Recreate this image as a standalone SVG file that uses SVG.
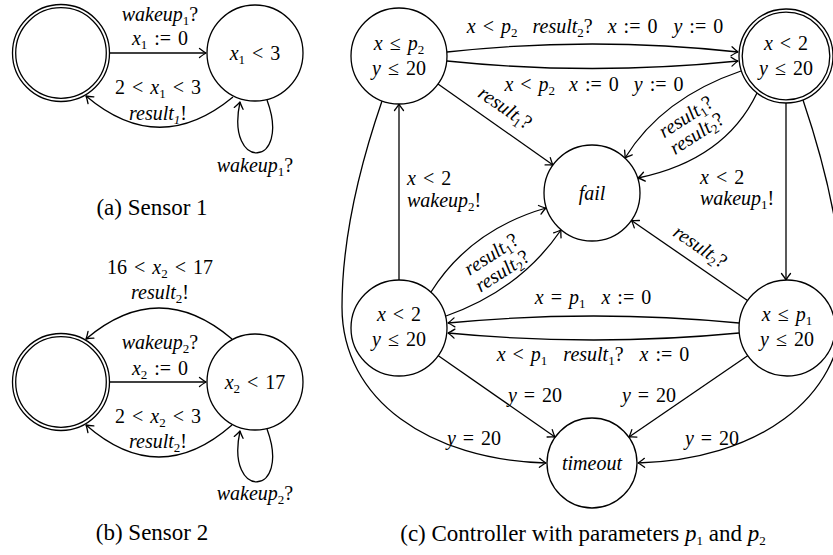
<svg xmlns="http://www.w3.org/2000/svg" width="833" height="555" viewBox="0 0 833 555">
<style>
.t{font-family:"Liberation Serif","DejaVu Serif",serif;font-size:20px;fill:#000;text-anchor:middle;word-spacing:2px}
.l{text-anchor:start}
.i{font-style:italic}
.s{font-size:13px}
.cap{font-size:23px;word-spacing:0}
.n{fill:#fff;stroke:#000;stroke-width:1.3}
.e{fill:none;stroke:#000;stroke-width:1.3;marker-end:url(#ah)}
</style>
<defs>
<marker id="ah" viewBox="-8 -6 10 12" markerWidth="10" markerHeight="12" refX="0" refY="0" orient="auto" markerUnits="userSpaceOnUse">
<path d="M -6.5 -4.5 Q -2 -1 0 0 Q -2 1 -6.5 4.5" fill="none" stroke="#000" stroke-width="1.3" stroke-linecap="round" stroke-linejoin="round"/>
</marker>
</defs>
<rect width="833" height="555" fill="#fff"/>

<g id="connectors">
<path class="e" d="M 110 53 L 206 53"/>
<path class="e" d="M 233 97 Q 159 158 86 96"/>
<path class="e" d="M 267 100 C 292 168 225 172 240 102"/>
<path class="e" d="M 110 382 L 206 382"/>
<path class="e" d="M 232 339 Q 159 277 86 339"/>
<path class="e" d="M 232 425 Q 159 489 86 425"/>
<path class="e" d="M 267 429 C 292 497 225 501 240 431"/>
<path class="e" d="M 447 52 Q 592 36 738 52"/>
<path class="e" d="M 447 61 Q 592 76 738 61"/>
<path class="e" d="M 438 84 L 553 165"/>
<path class="e" d="M 741 71 Q 662 98 625 158"/>
<path class="e" d="M 757 93 Q 725 160 638 178"/>
<path class="e" d="M 786 103 L 786 280"/>
<path class="e" d="M 803 100 C 825 165 843 240 843 307 C 843 400 755 460 638 463"/>
<path class="e" d="M 382 101 C 360 165 342 240 342 307 C 342 400 430 460 546 463"/>
<path class="e" d="M 399 280 L 399 104"/>
<path class="e" d="M 431 292 Q 470 230 546 208"/>
<path class="e" d="M 446 316 Q 520 290 561 230"/>
<path class="e" d="M 739 323 Q 594 309 448 323"/>
<path class="e" d="M 739 333 Q 594 347 448 333"/>
<path class="e" d="M 438 355.5 L 555 437"/>
<path class="e" d="M 748 355.5 L 629 437"/>
<path class="e" d="M 747.5 300.5 L 631.5 220.5"/>
</g>

<g id="s1-init"><circle class="n" cx="61" cy="53" r="48.5"/><circle class="n" cx="61" cy="53" r="45.3"/></g>
<g id="s1-active"><circle class="n" cx="255" cy="53" r="48"/>
<text class="t" x="255" y="60"><tspan class="i">x</tspan><tspan class="s" dy="4">1</tspan><tspan dy="-4"> &lt; 3</tspan></text></g>

<g id="s2-init"><circle class="n" cx="61" cy="382" r="48.5"/><circle class="n" cx="61" cy="382" r="45.3"/></g>
<g id="s2-active"><circle class="n" cx="255" cy="382" r="48"/>
<text class="t" x="255" y="389"><tspan class="i">x</tspan><tspan class="s" dy="4">2</tspan><tspan dy="-4"> &lt; 17</tspan></text></g>

<g id="c-p2"><circle class="n" cx="399" cy="56" r="48"/>
<text class="t" x="399" y="50"><tspan class="i">x</tspan> ≤ <tspan class="i">p</tspan><tspan class="s" dy="4">2</tspan></text>
<text class="t" x="399" y="75"><tspan class="i">y</tspan> ≤ 20</text></g>

<g id="c-x2-top"><circle class="n" cx="786" cy="56" r="47"/><circle class="n" cx="786" cy="56" r="43.8"/>
<text class="t" x="786" y="50"><tspan class="i">x</tspan> &lt; 2</text>
<text class="t" x="786" y="75"><tspan class="i">y</tspan> ≤ 20</text></g>

<g id="c-fail"><circle class="n" cx="592" cy="193" r="48"/>
<text class="t i" x="592" y="200">fail</text></g>

<g id="c-x2-bot"><circle class="n" cx="399" cy="328" r="48"/>
<text class="t" x="399" y="321"><tspan class="i">x</tspan> &lt; 2</text>
<text class="t" x="399" y="346"><tspan class="i">y</tspan> ≤ 20</text></g>

<g id="c-p1"><circle class="n" cx="787" cy="328" r="48"/>
<text class="t" x="787" y="321"><tspan class="i">x</tspan> ≤ <tspan class="i">p</tspan><tspan class="s" dy="4">1</tspan></text>
<text class="t" x="787" y="346"><tspan class="i">y</tspan> ≤ 20</text></g>

<g id="c-timeout"><circle class="n" cx="592" cy="463" r="45"/>
<text class="t i" x="592" y="470">timeout</text></g>

<g id="edge-labels">
<text class="t" x="160" y="21"><tspan class="i">wakeup</tspan><tspan class="s" dy="4">1</tspan><tspan dy="-4">?</tspan></text>
<text class="t" x="160" y="45"><tspan class="i">x</tspan><tspan class="s" dy="4">1</tspan><tspan dy="-4"> := 0</tspan></text>
<text class="t" x="158" y="94">2 &lt; <tspan class="i">x</tspan><tspan class="s" dy="4">1</tspan><tspan dy="-4"> &lt; 3</tspan></text>
<text class="t" x="158" y="120"><tspan class="i">result</tspan><tspan class="s i" dy="4">1</tspan><tspan dy="-4">!</tspan></text>
<text class="t" x="255" y="172"><tspan class="i">wakeup</tspan><tspan class="s" dy="4">1</tspan><tspan dy="-4">?</tspan></text>

<text class="t" x="160" y="274">16 &lt; <tspan class="i">x</tspan><tspan class="s" dy="4">2</tspan><tspan dy="-4"> &lt; 17</tspan></text>
<text class="t" x="160" y="299"><tspan class="i">result</tspan><tspan class="s" dy="4">2</tspan><tspan dy="-4">!</tspan></text>
<text class="t" x="160" y="349"><tspan class="i">wakeup</tspan><tspan class="s" dy="4">2</tspan><tspan dy="-4">?</tspan></text>
<text class="t" x="160" y="375"><tspan class="i">x</tspan><tspan class="s" dy="4">2</tspan><tspan dy="-4"> := 0</tspan></text>
<text class="t" x="158" y="423">2 &lt; <tspan class="i">x</tspan><tspan class="s" dy="4">2</tspan><tspan dy="-4"> &lt; 3</tspan></text>
<text class="t" x="158" y="448"><tspan class="i">result</tspan><tspan class="s" dy="4">2</tspan><tspan dy="-4">!</tspan></text>
<text class="t" x="255" y="500"><tspan class="i">wakeup</tspan><tspan class="s" dy="4">2</tspan><tspan dy="-4">?</tspan></text>

<text class="t" x="595" y="33"><tspan class="i">x</tspan> &lt; <tspan class="i">p</tspan><tspan class="s" dy="4">2</tspan><tspan class="i" dy="-4" dx="15">result</tspan><tspan class="s" dy="4">2</tspan><tspan dy="-4">?</tspan><tspan class="i" dx="15">x</tspan> := 0 <tspan class="i" dx="9">y</tspan> := 0</text>
<text class="t" x="594" y="91"><tspan class="i">x</tspan> &lt; <tspan class="i">p</tspan><tspan class="s" dy="4">2</tspan><tspan class="i" dy="-4" dx="14">x</tspan> := 0 <tspan class="i" dx="8">y</tspan> := 0</text>
<text class="t" transform="translate(505 108) rotate(34.5)" x="0" y="6"><tspan class="i">result</tspan><tspan class="s" dy="4">1</tspan><tspan dy="-4">?</tspan></text>
<g transform="translate(691.5 125.5) rotate(-33)">
<text class="t" x="0" y="-4"><tspan class="i">result</tspan><tspan class="s" dy="4">1</tspan><tspan dy="-4">?</tspan></text>
<text class="t" x="0" y="16"><tspan class="i">result</tspan><tspan class="s" dy="4">2</tspan><tspan dy="-4">?</tspan></text>
</g>
<text class="t l" x="700" y="184"><tspan class="i">x</tspan> &lt; 2</text>
<text class="t l" x="700" y="205"><tspan class="i">wakeup</tspan><tspan class="s" dy="4">1</tspan><tspan dy="-4">!</tspan></text>
<text class="t l" x="407" y="185"><tspan class="i">x</tspan> &lt; 2</text>
<text class="t l" x="407" y="207"><tspan class="i">wakeup</tspan><tspan class="s" dy="4">2</tspan><tspan dy="-4">!</tspan></text>
<g transform="translate(497 263) rotate(-33)">
<text class="t" x="0" y="-4"><tspan class="i">result</tspan><tspan class="s" dy="4">1</tspan><tspan dy="-4">?</tspan></text>
<text class="t" x="0" y="16"><tspan class="i">result</tspan><tspan class="s" dy="4">2</tspan><tspan dy="-4">?</tspan></text>
</g>
<text class="t" transform="translate(700 247) rotate(34)" x="0" y="6"><tspan class="i">result</tspan><tspan class="s" dy="4">2</tspan><tspan dy="-4">?</tspan></text>
<text class="t" x="593" y="304"><tspan class="i">x</tspan> = <tspan class="i">p</tspan><tspan class="s" dy="4">1</tspan><tspan class="i" dy="-4" dx="16">x</tspan> := 0</text>
<text class="t" x="593" y="361"><tspan class="i">x</tspan> &lt; <tspan class="i">p</tspan><tspan class="s" dy="4">1</tspan><tspan class="i" dy="-4" dx="16">result</tspan><tspan class="s" dy="4">1</tspan><tspan dy="-4">?</tspan><tspan class="i" dx="16">x</tspan> := 0</text>
<text class="t" x="535" y="402"><tspan class="i">y</tspan> = 20</text>
<text class="t" x="649" y="402"><tspan class="i">y</tspan> = 20</text>
<text class="t" x="474" y="445"><tspan class="i">y</tspan> = 20</text>
<text class="t" x="712" y="445"><tspan class="i">y</tspan> = 20</text>
</g>

<g id="captions">
<text class="t cap" x="152" y="215">(a) Sensor 1</text>
<text class="t cap" x="152" y="540">(b) Sensor 2</text>
<text class="t cap" x="583" y="541">(c) Controller with parameters <tspan class="i">p</tspan><tspan class="s" dy="4">1</tspan><tspan dy="-4"> and </tspan><tspan class="i">p</tspan><tspan class="s" dy="4">2</tspan></text>
</g>
</svg>
